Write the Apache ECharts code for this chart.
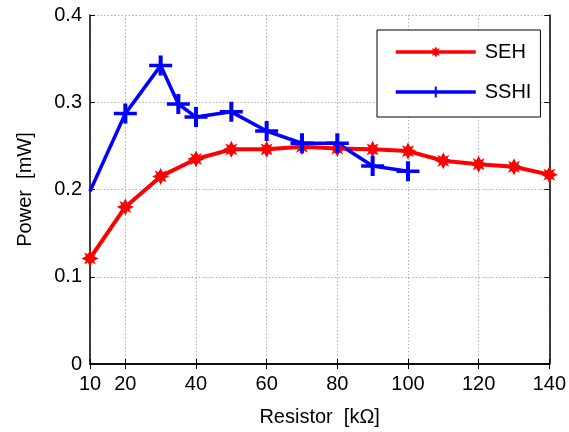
<!DOCTYPE html>
<html>
<head>
<meta charset="utf-8">
<script src="https://cdn.jsdelivr.net/npm/echarts@6/dist/echarts.min.js"></script>
<style>html,body{margin:0;padding:0;background:#fff}#c{width:569px;height:432px}</style>
</head>
<body>
<div id="c"></div>
<script>
var xTicks = [10, 20, 40, 60, 80, 100, 120, 140];
var sehX = [10, 20, 30, 40, 50, 60, 70, 80, 90, 100, 110, 120, 130, 140];
var sehY = [0.121, 0.180, 0.215, 0.235, 0.246, 0.246, 0.249, 0.247, 0.246, 0.244, 0.233, 0.229, 0.226, 0.217];
var sshiX = [10, 20, 30, 35, 40, 50, 60, 70, 80, 90, 100];
var sshiY = [0.198, 0.287, 0.342, 0.298, 0.283, 0.289, 0.267, 0.253, 0.253, 0.227, 0.221];

var FONT = 'Liberation Sans, Arial, sans-serif';
var plusPath = 'path://M8.25,0 L11.75,0 L11.75,8.25 L20,8.25 L20,11.75 L11.75,11.75 L11.75,20 L8.25,20 L8.25,11.75 L0,11.75 L0,8.25 L8.25,8.25 Z';
var starPath = 'path://M10,0 L12.6,5.2 L17,3 L14.8,7.4 L20,10 L14.8,12.6 L17,17 L12.6,14.8 L10,20 L7.4,14.8 L3,17 L5.2,12.6 L0,10 L5.2,7.4 L3,3 L7.4,5.2 Z';

var sehData = sehX.map(function (x, i) { return [x, sehY[i]]; });
var sshiData = sshiX.map(function (x, i) {
  var d = { value: [x, sshiY[i]] };
  if (i === 0) { d.symbol = 'none'; }
  return d;
});

var chart = echarts.init(document.getElementById('c'), null, { renderer: 'canvas' });
var axisLineStyle = { color: '#000', width: 1.5 };
var gridLine = { show: true, lineStyle: { color: '#b0b0b0', type: [1.5, 2], width: 1 } };
chart.setOption({
  animation: false,
  backgroundColor: '#fff',
  grid: { left: 90, right: 18, top: 15, bottom: 67, show: false },
  legend: {
    orient: 'vertical',
    left: 377,
    top: 30,
    padding: [12, 9, 15, 17],
    itemGap: 20,
    itemWidth: 80,
    itemHeight: 14,
    backgroundColor: '#fff',
    borderColor: '#000',
    borderWidth: 1,
    borderRadius: 0,
    textStyle: { fontFamily: FONT, fontSize: 20, color: '#000', padding: [0, 0, 0, 4] },
    data: [
      { name: 'SEH', lineStyle: { width: 3.5 } },
      { name: 'SSHI', lineStyle: { width: 3.5 } }
    ]
  },
  xAxis: [{
    type: 'value', min: 10, max: 140,
    name: 'Resistor  [kΩ]', nameLocation: 'middle', nameGap: 43,
    nameTextStyle: { fontFamily: FONT, fontSize: 20, color: '#000' },
    axisLine: { show: true, lineStyle: axisLineStyle },
    axisTick: { show: true, inside: true, length: 5, customValues: xTicks, lineStyle: { color: '#000' } },
    axisLabel: { fontFamily: FONT, fontSize: 20, color: '#000', margin: 10, customValues: xTicks },
    splitLine: gridLine
  }, {
    type: 'value', min: 10, max: 140, position: 'top',
    axisLine: { show: true, lineStyle: axisLineStyle },
    axisTick: { show: true, inside: true, length: 5, customValues: xTicks, lineStyle: { color: '#000' } },
    axisLabel: { show: false },
    splitLine: { show: false }
  }],
  yAxis: [{
    type: 'value', min: 0, max: 0.4, interval: 0.1,
    name: 'Power  [mW]', nameLocation: 'middle', nameGap: 55,
    nameTextStyle: { fontFamily: FONT, fontSize: 20, color: '#000' },
    axisLine: { show: true, lineStyle: axisLineStyle },
    axisTick: { show: true, inside: true, length: 5, lineStyle: { color: '#000' } },
    axisLabel: { fontFamily: FONT, fontSize: 20, color: '#000', margin: 8 },
    splitLine: gridLine
  }, {
    type: 'value', min: 0, max: 0.4, interval: 0.1, position: 'right',
    axisLine: { show: true, lineStyle: axisLineStyle },
    axisTick: { show: true, inside: true, length: 5, lineStyle: { color: '#000' } },
    axisLabel: { show: false },
    splitLine: { show: false }
  }],
  series: [{
    name: 'SEH', type: 'line', data: sehData,
    xAxisIndex: 0, yAxisIndex: 0,
    lineStyle: { color: '#ff0000', width: 4 },
    itemStyle: { color: '#ff0000' },
    symbol: starPath, symbolSize: 17, showAllSymbol: true
  }, {
    name: 'SSHI', type: 'line', data: sshiData,
    xAxisIndex: 0, yAxisIndex: 0,
    lineStyle: { color: '#0000ff', width: 3.5 },
    itemStyle: { color: '#0000ff' },
    symbol: plusPath, symbolSize: [23, 20], showAllSymbol: true
  }]
});
</script>
</body>
</html>
